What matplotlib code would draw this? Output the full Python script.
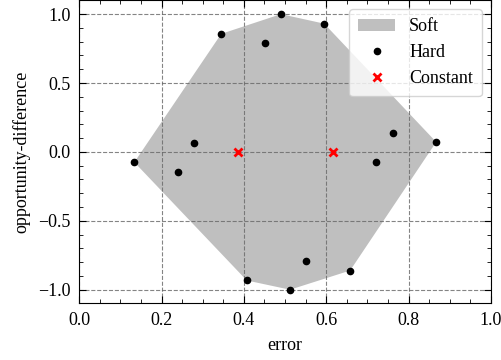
import numpy as np
import matplotlib
matplotlib.use("Agg")
import matplotlib.pyplot as plt
from matplotlib.ticker import MultipleLocator

plt.rcParams["font.family"] = ["Liberation Serif", "DejaVu Serif"]
plt.rcParams["font.size"] = 13
plt.rcParams["mathtext.fontset"] = "stix"

# hard-constraint solutions (error, opportunity-difference)
hard_err = [0.134, 0.240, 0.279, 0.345, 0.451, 0.490, 0.595, 0.722, 0.761,
            0.867, 0.407, 0.512, 0.552, 0.658]
hard_opp = [-0.075, -0.145, 0.065, 0.857, 0.787, 1.0, 0.931, -0.072, 0.140,
            0.072, -0.933, -1.0, -0.791, -0.861]

# constant classifiers
const_err = [0.385, 0.617]
const_opp = [0.0, 0.0]


def convex_hull(pts):
    pts = sorted(set(pts))

    def cross(o, a, b):
        return (a[0] - o[0]) * (b[1] - o[1]) - (a[1] - o[1]) * (b[0] - o[0])

    lower, upper = [], []
    for p in pts:
        while len(lower) >= 2 and cross(lower[-2], lower[-1], p) <= 0:
            lower.pop()
        lower.append(p)
    for p in reversed(pts):
        while len(upper) >= 2 and cross(upper[-2], upper[-1], p) <= 0:
            upper.pop()
        upper.append(p)
    return np.array(lower[:-1] + upper[:-1])


fig = plt.figure(figsize=(5.01, 3.6), dpi=100)
ax = fig.add_axes([0.158, 0.157, 0.822, 0.842])

hull = convex_hull(list(zip(hard_err, hard_opp)))
ax.fill(hull[:, 0], hull[:, 1], color="gray", alpha=0.5, lw=0, label="Soft")
ax.plot(hard_err, hard_opp, "o", color="black", ms=4.5, ls="none", label="Hard")
ax.plot(const_err, const_opp, "x", color="red", ms=5.5, mew=2, ls="none",
        label="Constant")

ax.set_xlim(0, 1)
ax.set_ylim(-1.1, 1.1)
ax.xaxis.set_major_locator(MultipleLocator(0.2))
ax.xaxis.set_minor_locator(MultipleLocator(0.05))
ax.yaxis.set_major_locator(MultipleLocator(0.5))
ax.yaxis.set_minor_locator(MultipleLocator(0.1))
ax.tick_params(which="both", direction="in", top=True, right=True)
ax.tick_params(which="major", length=5, width=0.8, pad=6)
ax.tick_params(which="minor", length=3, width=0.6)
ax.grid(True, ls="--", color="#666666", lw=0.8, alpha=0.8)

ax.set_xlabel("error", labelpad=6)
ax.set_ylabel("opportunity-difference", labelpad=6)
ax.legend(loc="upper right", fancybox=True, framealpha=0.8,
          borderpad=0.5, handlelength=2.0)

fig.savefig("out.png", dpi=100)
